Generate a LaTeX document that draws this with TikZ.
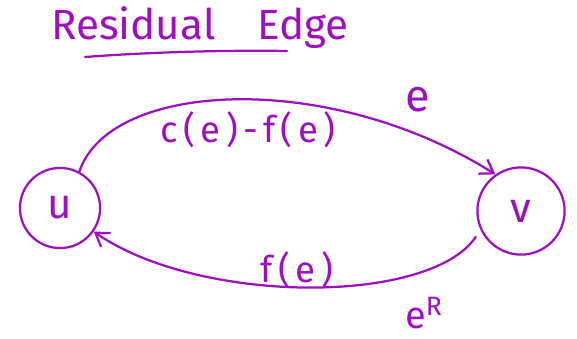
\documentclass[tikz,border=0pt]{standalone}
\usepackage{fontspec}
\setmainfont{Fira Sans}
\usetikzlibrary{arrows.meta}
\definecolor{ink}{RGB}{158,16,190}
\begin{document}
\begin{tikzpicture}[x=0.025cm, y=-0.025cm, line width=1.6pt, draw=ink,
    every node/.style={text=ink, inner sep=1pt,
      font=\fontsize{26}{28}\selectfont\addfontfeatures{LetterSpace=15}},
    vertex/.style={draw=ink, circle, minimum size=57pt,
      font=\fontsize{30}{32}\selectfont},
    flow/.style={ink, line cap=round, -{Straight Barb[length=9pt, width=12pt]}}]
  \useasboundingbox (0,0) rectangle (577,338);
  % title
  \node[font=\fontsize{30}{32}\selectfont] (title) at (200,28) {Residual\quad Edge};
  \draw[ink, line cap=round] (85,57) .. controls (150,52) and (230,50) .. (287,51);
  \node[vertex] (u) at (60,208) {u};
  \node[vertex, minimum size=62pt] (v) at (521,211) {v};
  \draw[flow] (u.62) .. controls (110,80) and (330,70) .. (v.125);
  \draw[flow, shorten <=6pt] (v.205) .. controls (430,305) and (200,305) .. (u.-35);
  \node (cap) at (248,130) {c(e)-f(e)};
  \node[font=\fontsize{32}{34}\selectfont] (e) at (418,100) {e};
  \node (fe) at (297,270) {f(e)};
  \node[font=\fontsize{27}{29}\selectfont] (eR) at (424,313) {e$^{\mathrm{R}}$};
\end{tikzpicture}
\end{document}
